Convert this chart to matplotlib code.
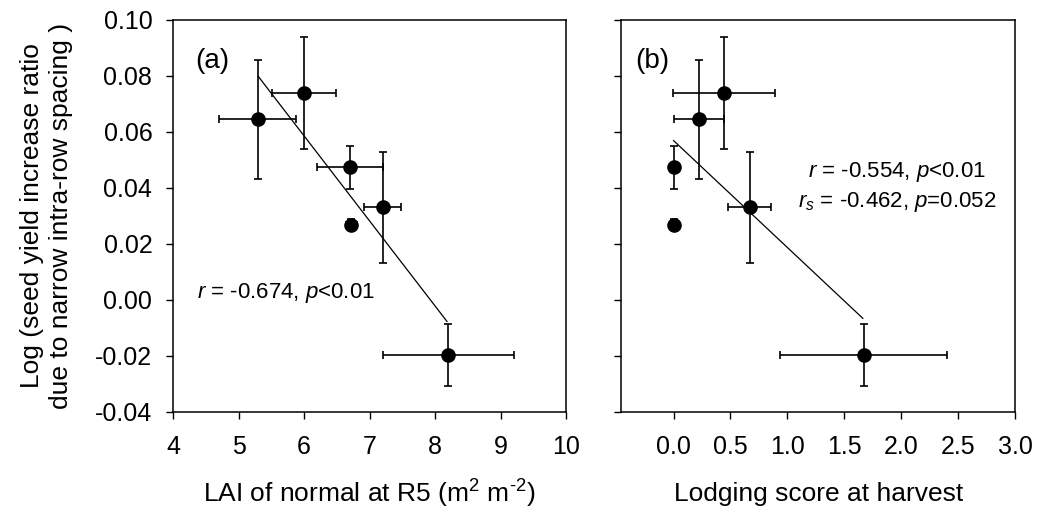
import matplotlib
matplotlib.use("Agg")
import matplotlib.pyplot as plt
import numpy as np

plt.rcParams['font.family'] = ['Liberation Sans', 'DejaVu Sans']
plt.rcParams['mathtext.fontset'] = 'custom'
plt.rcParams['mathtext.rm'] = 'Liberation Sans'
plt.rcParams['mathtext.it'] = 'Liberation Sans:italic'
plt.rcParams['mathtext.bf'] = 'Liberation Sans:bold'

# Panel (a): LAI at R5
lai = [5.29, 6.00, 6.70, 7.20, 6.72, 8.20]
lai_err = [0.59, 0.49, 0.51, 0.28, 0.08, 1.00]
# Panel (b): lodging score
lodging = [0.22, 0.445, 0.0, 0.667, 0.0, 1.668]
lodging_err = [0.22, 0.45, 0.0, 0.19, 0.0, 0.73]
# Shared response
yval = [0.0645, 0.0738, 0.0473, 0.0331, 0.0268, -0.0196]
yerr = [0.0213, 0.0200, 0.0078, 0.0198, 0.0020, 0.0110]

# Regression line endpoints
line_a_x = [5.30, 8.18]
line_a_y = [0.0798, -0.0077]
line_b_x = [0.0, 1.662]
line_b_y = [0.0569, -0.0066]

yticks = [-0.04, -0.02, 0.00, 0.02, 0.04, 0.06, 0.08, 0.10]
xticks_a = [4, 5, 6, 7, 8, 9, 10]
xticks_b = [0.0, 0.5, 1.0, 1.5, 2.0, 2.5, 3.0]

fig = plt.figure(figsize=(10.37, 5.11), dpi=100)
ax1 = fig.add_axes([0.167, 0.194, 0.379, 0.767])
ax2 = fig.add_axes([0.599, 0.194, 0.380, 0.767])

ekw = dict(fmt='o', color='black', ecolor='black', markersize=9.5,
           elinewidth=1.2, capsize=3.0, capthick=1.2)

ax1.errorbar(lai, yval, xerr=lai_err, yerr=yerr, **ekw)
ax1.plot(line_a_x, line_a_y, color='black', lw=0.9)
ax2.errorbar(lodging, yval, xerr=lodging_err, yerr=yerr, **ekw)
ax2.plot(line_b_x, line_b_y, color='black', lw=0.9)

for ax in (ax1, ax2):
    ax.set_ylim(-0.04, 0.10)
    ax.set_yticks(yticks)
    ax.tick_params(direction='out', length=5, width=1.0, labelsize=18)
    ax.tick_params(axis='x', pad=12)
    ax.tick_params(axis='y', pad=10)
    for s in ax.spines.values():
        s.set_linewidth(1.1)

ax1.set_xlim(4, 10)
ax1.set_xticks(xticks_a)
ax1.set_xticklabels([str(v) for v in xticks_a])
ax1.set_yticklabels([f"{v:.2f}" for v in yticks])
ax2.set_xlim(-0.46, 3.0)
ax2.set_xticks(xticks_b)
ax2.set_xticklabels([f"{v:.1f}" for v in xticks_b])
ax2.set_yticklabels([])

ax1.set_xlabel(r"LAI of normal at R5 (m$^2$ m$^{\text{-}2}$)", fontsize=19, labelpad=13)
ax2.set_xlabel("Lodging score at harvest", fontsize=19, labelpad=16)
ax1.set_ylabel("Log (seed yield increase ratio\ndue to narrow intra-row spacing )",
               fontsize=19, labelpad=16, linespacing=1.25)

ax1.text(4.33, 0.0855, "(a)", fontsize=20, va='center', ha='left')
ax2.text(-0.34, 0.0855, "(b)", fontsize=20, va='center', ha='left')

ax1.text(4.37, 0.0025, r"$r$ = -0.674, $p$<0.01", fontsize=16, va='center', ha='left')
ax2.text(1.96, 0.0457, r"$r$ = -0.554, $p$<0.01", fontsize=16, va='center', ha='center')
ax2.text(1.96, 0.0351, r"$r_s$ = -0.462, $p$=0.052", fontsize=16, va='center', ha='center')

fig.savefig("out.png", dpi=100)
